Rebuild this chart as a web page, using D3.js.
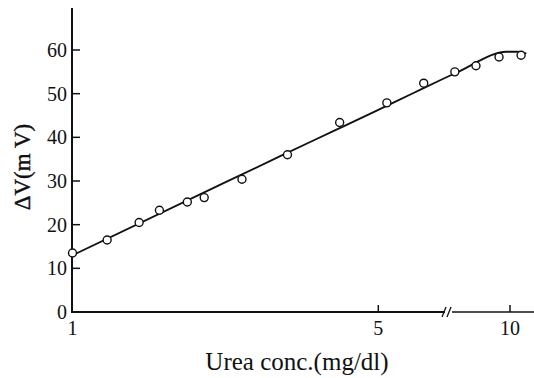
<!DOCTYPE html>
<html lang="en">
<head>
<meta charset="utf-8">
<title>Urea conc. vs dV</title>
<script src="https://cdn.jsdelivr.net/npm/d3@7"></script>
<style>
  body { margin: 0; background: #fff; }
  text { font-family: "Liberation Serif", "DejaVu Serif", serif; fill: #111; }
</style>
</head>
<body>
<div id="chart"></div>
<script>
// measured points (urea mg/dl, mV)
var conc  = [1.0, 1.2, 1.42, 1.58, 1.83, 2.0, 2.44, 3.1, 4.08, 5.23, 6.35, 7.48, 8.36, 9.44, 10.6];
var volts = [13.5, 16.5, 20.5, 23.3, 25.2, 26.2, 30.4, 36.0, 43.4, 47.9, 52.4, 55.0, 56.4, 58.4, 58.8];

// hand fitted curve through them
var fitX = [1.0, 2.0, 3.0, 4.0, 5.0, 6.0, 7.0, 7.8, 8.5, 9.1, 9.8, 10.4, 10.9];
var fitY = [13.0, 27.4, 35.8, 41.7, 46.3, 50.1, 53.3, 55.5, 57.5, 58.9, 59.6, 59.6, 59.2];

var yTicks = [0, 10, 20, 30, 40, 50, 60];
var xTicks = [1, 5, 10];

var w = 534, h = 378;
var svg = d3.select("#chart").append("svg")
    .attr("width", w).attr("height", h);

var x = d3.scaleLog().domain([1, 10]).range([72.5, 510]);
var y = d3.scaleLinear().domain([0, 60]).range([312, 50]);

// axes lines
svg.append("line").attr("x1", 72).attr("x2", 72).attr("y1", 8).attr("y2", 312)
    .attr("stroke", "#111").attr("stroke-width", 2);
svg.append("line").attr("x1", 71).attr("x2", 445).attr("y1", 312).attr("y2", 312)
    .attr("stroke", "#111").attr("stroke-width", 2.2);
svg.append("line").attr("x1", 452).attr("x2", 534).attr("y1", 312).attr("y2", 312)
    .attr("stroke", "#111").attr("stroke-width", 1.4);
// axis break //
[442, 447].forEach(function(bx) {
  svg.append("line").attr("x1", bx).attr("x2", bx + 4).attr("y1", 317).attr("y2", 307)
      .attr("stroke", "#111").attr("stroke-width", 1.3);
});

// y ticks (inside)
svg.selectAll(".yt").data(yTicks.slice(1)).enter().append("line")
    .attr("x1", 72).attr("x2", 80)
    .attr("y1", function(d) { return y(d); }).attr("y2", function(d) { return y(d); })
    .attr("stroke", "#111").attr("stroke-width", 1.5);
svg.selectAll(".yl").data(yTicks).enter().append("text")
    .attr("x", 67).attr("y", function(d) { return y(d) + 7; })
    .attr("text-anchor", "end").attr("font-size", 20)
    .text(function(d) { return d; });

// x ticks
svg.selectAll(".xt").data(xTicks.slice(1)).enter().append("line")
    .attr("x1", function(d) { return x(d); }).attr("x2", function(d) { return x(d); })
    .attr("y1", 312).attr("y2", 305)
    .attr("stroke", "#111").attr("stroke-width", 1.5);
svg.selectAll(".xl").data(xTicks).enter().append("text")
    .attr("x", function(d) { return x(d); }).attr("y", 335)
    .attr("text-anchor", "middle").attr("font-size", 20)
    .text(function(d) { return d; });

// fitted line
var line = d3.line()
    .x(function(d) { return x(d[0]); })
    .y(function(d) { return y(d[1]); })
    .curve(d3.curveMonotoneX);
svg.append("path").datum(d3.zip(fitX, fitY))
    .attr("d", line).attr("fill", "none")
    .attr("stroke", "#111").attr("stroke-width", 1.8);

// data points
svg.selectAll(".pt").data(d3.zip(conc, volts)).enter().append("circle")
    .attr("cx", function(d) { return x(d[0]); })
    .attr("cy", function(d) { return y(d[1]); })
    .attr("r", 4).attr("fill", "#fff")
    .attr("stroke", "#111").attr("stroke-width", 1.4);

// labels
svg.append("text").attr("x", 297).attr("y", 370)
    .attr("text-anchor", "middle").attr("font-size", 25)
    .text("Urea conc.(mg/dl)");
svg.append("text")
    .attr("transform", "translate(30,167) rotate(-90)")
    .attr("text-anchor", "middle").attr("font-size", 23)
    .attr("stroke", "#111").attr("stroke-width", 0.4)
    .text("ΔV(m V)");
</script>
</body>
</html>
